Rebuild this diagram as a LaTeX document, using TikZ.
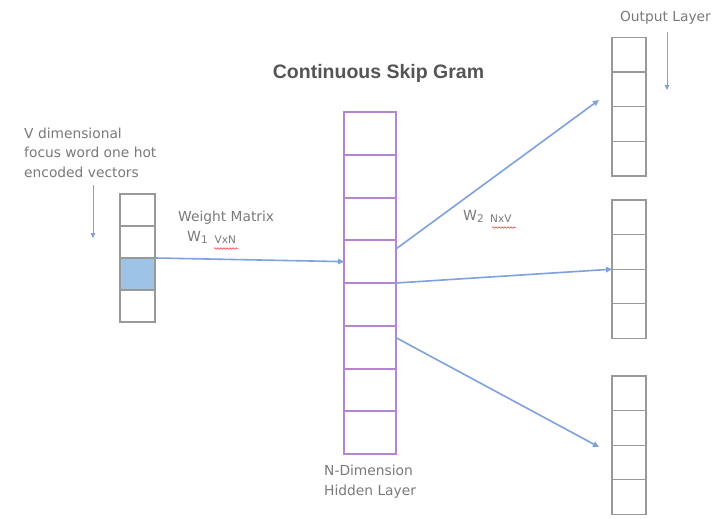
\documentclass[tikz,border=0pt]{standalone}
\usepackage{fontspec}
\setmainfont{DejaVu Sans}
\newfontfamily\titlefont{Liberation Sans}
\usetikzlibrary{arrows.meta,decorations.pathmorphing}
\definecolor{txtgray}{HTML}{7A7A7A}
\definecolor{titlegray}{HTML}{555555}
\definecolor{boxgray}{HTML}{999999}
\definecolor{hidpurple}{HTML}{B585CF}
\definecolor{arrblue}{HTML}{7FA2DC}
\definecolor{cellblue}{HTML}{9DC3E6}
\tikzset{
  lbl/.style={text=txtgray, font=\fontsize{13.8}{19.5}\selectfont, inner sep=0pt, align=left},
  incell/.style={draw=boxgray, line width=1.2pt, minimum width=35pt, minimum height=32pt, inner sep=0pt, outer sep=0pt},
  hcell/.style={draw=hidpurple, line width=2pt, minimum width=52pt, minimum height=42.75pt, inner sep=0pt, outer sep=0pt},
  ocell/.style={draw=boxgray, line width=1.2pt, minimum width=34pt, minimum height=34.6pt, inner sep=0pt, outer sep=0pt},
  conn/.style={draw=arrblue, line width=1.6pt, -{Triangle[length=6pt,width=5.5pt]}},
  thin conn/.style={draw=arrblue, line width=1pt, -{Triangle[length=5pt,width=4.5pt]}},
  squiggle/.style={draw=red!80, line width=0.5pt, decorate, decoration={snake, amplitude=0.8pt, segment length=3pt}}
}
\begin{document}
\begin{tikzpicture}[x=1pt,y=-1pt]
\useasboundingbox[fill=white] (0,0) rectangle (726,519);

% input vector
\foreach \i/\y in {1/210,2/242,3/274,4/306}
  \node[incell] (in\i) at (137.5,\y) {};
\node[incell, fill=cellblue] (in3b) at (137.5,274) {};

% hidden layer
\foreach \i in {1,...,8}
  \node[hcell] (h\i) at (370,{133.375+42.75*(\i-1)}) {};

% output vectors
\foreach \i in {1,...,4} {
  \node[ocell] (a\i) at (629,{54.8+34.6*(\i-1)}) {};
  \node[ocell] (b\i) at (629,{217.3+34.6*(\i-1)}) {};
  \node[ocell] (c\i) at (629,{393.3+34.6*(\i-1)}) {};
}

% texts
\node[font=\titlefont\bfseries\fontsize{19.5}{22}\selectfont, text=titlegray, inner sep=0pt] (title) at (378.5,73) {Continuous Skip Gram};
\node[lbl, anchor=west] (vdim) at (24,152.5) {V dimensional\\focus word one hot\\encoded vectors};
\node[lbl, anchor=west] (wm) at (178,218) {Weight Matrix};
\node[lbl, anchor=base west, inner sep=0pt] (w1) at (187,241) {{\fontsize{14}{14}\selectfont W}\raisebox{-2.5pt}{\fontsize{10.5}{10.5}\selectfont 1\hspace{7pt}VxN}};
\node[lbl, anchor=base west, inner sep=0pt] (w2) at (463,220) {{\fontsize{14}{14}\selectfont W}\raisebox{-2.5pt}{\fontsize{10.5}{10.5}\selectfont 2\hspace{6.5pt}NxV}};
\node[lbl, anchor=west] (hid) at (324,481.5) {N-Dimension\\Hidden Layer};
\node[lbl, anchor=center] (outl) at (665.5,18) {Output Layer};

% spell-check squiggles
\coordinate (s1a) at (214,248.5); \coordinate (s1b) at (238,248.5);
\coordinate (s2a) at (492,227.5); \coordinate (s2b) at (516,227.5);
\draw[squiggle] (s1a) -- (s1b);
\draw[squiggle] (s2a) -- (s2b);

% connectors
\coordinate (t1) at (599,100);
\coordinate (t3) at (599,447);
\draw[conn] (in3b.north east) -- (h4.west);
\draw[conn] (h4.26) -- (t1);
\draw[conn] (h4.south east) -- (b3.north west);
\draw[conn] (h6.20) -- (t3);

% small down arrows
\coordinate (la1) at (93,185); \coordinate (la2) at (93,238);
\coordinate (ra1) at (667,32); \coordinate (ra2) at (667,90);
\draw[thin conn] (la1) -- (la2);
\draw[thin conn] (ra1) -- (ra2);
\end{tikzpicture}
\end{document}
